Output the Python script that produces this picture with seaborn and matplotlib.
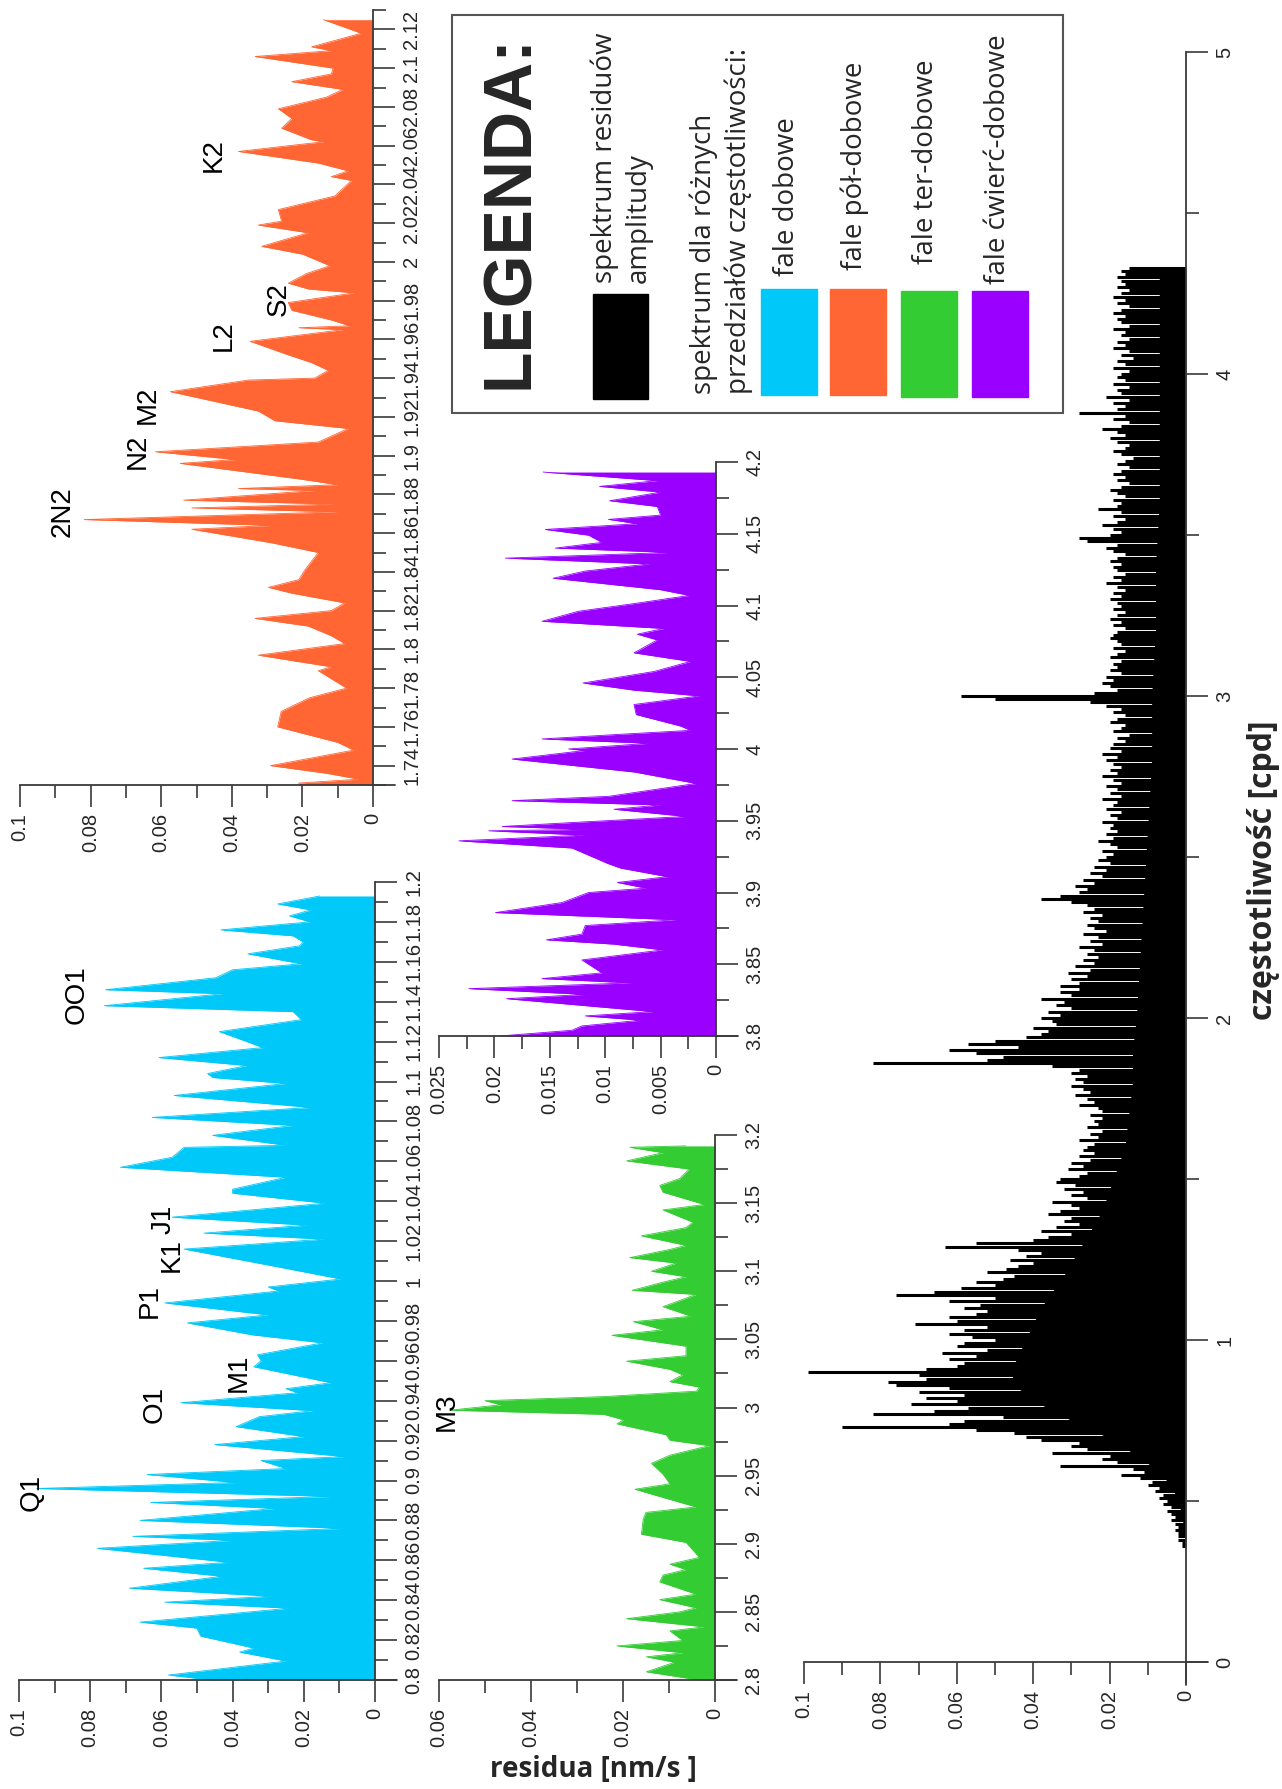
import numpy as np
import matplotlib
matplotlib.use("Agg")
import matplotlib.pyplot as plt
from matplotlib.patches import Rectangle
import seaborn as sns

# residual amplitude spectrum with four zoomed frequency bands (figure is rotated 90 deg)

sns.set_theme(style="white")
plt.rcParams['font.family'] = ['Liberation Sans', 'DejaVu Sans']

W, H = 1282, 1789

# colours of the bands
c_blue = "#00c8f8"
c_orange = "#ff6633"
c_green = "#33cc33"
c_purple = "#9900ff"
c_axis = "#3a3a3a"

# ---- diurnal band (0.8 - 1.2 cpd) ----
blue_freq = [0.800, 0.8025, 0.8095, 0.814, 0.816, 0.822, 0.826, 0.829, 0.836, 0.839, 0.842, 0.846,
             0.852, 0.856, 0.859, 0.866, 0.870, 0.872, 0.876, 0.880, 0.886, 0.889, 0.892, 0.896,
             0.899, 0.903, 0.906, 0.910, 0.912, 0.918, 0.922, 0.927, 0.932, 0.935, 0.939, 0.944,
             0.946, 0.949, 0.957, 0.960, 0.963, 0.969, 0.973, 0.979, 0.983, 0.989, 0.995, 0.997,
             1.001, 1.007, 1.016, 1.021, 1.024, 1.028, 1.032, 1.039, 1.044, 1.046, 1.052, 1.057,
             1.062, 1.067, 1.068, 1.073, 1.078, 1.082, 1.087, 1.093, 1.099, 1.102, 1.104, 1.108,
             1.112, 1.117, 1.120, 1.125, 1.131, 1.135, 1.138, 1.144, 1.146, 1.152, 1.156, 1.159,
             1.164, 1.168, 1.170, 1.173, 1.176, 1.180, 1.183, 1.186, 1.189, 1.193]
blue_amp = [0.046, 0.058, 0.025, 0.038, 0.034, 0.049, 0.050, 0.066, 0.024, 0.059, 0.029, 0.069,
            0.043, 0.065, 0.041, 0.078, 0.040, 0.068, 0.009, 0.066, 0.028, 0.063, 0.012, 0.095,
            0.039, 0.064, 0.025, 0.032, 0.0086, 0.045, 0.020, 0.039, 0.0325, 0.0175, 0.0545, 0.0217,
            0.025, 0.0124, 0.034, 0.032, 0.033, 0.0147, 0.0344, 0.0527, 0.030, 0.059, 0.027, 0.030,
            0.0096, 0.027, 0.0536, 0.0141, 0.048, 0.019, 0.057, 0.014, 0.040, 0.040, 0.025, 0.0715,
            0.057, 0.0536, 0.025, 0.0456, 0.023, 0.0626, 0.018, 0.0564, 0.025, 0.0456, 0.047, 0.036,
            0.0607, 0.0315, 0.036, 0.0437, 0.0207, 0.023, 0.076, 0.0428, 0.0757, 0.0447, 0.040, 0.0207,
            0.0357, 0.0212, 0.0202, 0.023, 0.0433, 0.0183, 0.024, 0.018, 0.0273, 0.0155]

# ---- semidiurnal band (1.73 - 2.13 cpd) ----
orange_freq = [1.730, 1.731, 1.733, 1.736, 1.740, 1.748, 1.752, 1.760, 1.768, 1.775, 1.780, 1.789,
               1.791, 1.797, 1.803, 1.807, 1.812, 1.816, 1.820, 1.824, 1.829, 1.832, 1.836, 1.841,
               1.850, 1.855, 1.862, 1.864, 1.867, 1.871, 1.873, 1.875, 1.877, 1.882, 1.883, 1.885,
               1.888, 1.896, 1.898, 1.902, 1.907, 1.914, 1.918, 1.923, 1.933, 1.939, 1.940, 1.944,
               1.948, 1.952, 1.959, 1.965, 1.966, 1.967, 1.970, 1.975, 1.979, 1.984, 1.986, 1.989,
               1.994, 1.998, 2.004, 2.008, 2.011, 2.015, 2.019, 2.021, 2.027, 2.034, 2.042, 2.044,
               2.047, 2.051, 2.057, 2.062, 2.063, 2.069, 2.074, 2.079, 2.085, 2.089, 2.093, 2.097,
               2.100, 2.106, 2.109, 2.111, 2.118, 2.125]
orange_amp = [0.021, 0.021, 0.004, 0.013, 0.029, 0.0055, 0.010, 0.027, 0.026, 0.018, 0.0075, 0.0155,
              0.0118, 0.0325, 0.008, 0.0118, 0.0183, 0.0334, 0.0118, 0.008, 0.023, 0.0296, 0.021, 0.0193,
              0.0155, 0.0287, 0.0513, 0.0287, 0.0818, 0.0099, 0.0513, 0.0108, 0.0536, 0.0165, 0.0381, 0.0099,
              0.021, 0.0546, 0.039, 0.0616, 0.0155, 0.007, 0.0278, 0.0325, 0.0574, 0.0353, 0.0165, 0.0127,
              0.0174, 0.024, 0.0348, 0.0085, 0.021, 0.0066, 0.0118, 0.023, 0.024, 0.0052, 0.0183, 0.024,
              0.0188, 0.0122, 0.020, 0.0315, 0.026, 0.0183, 0.0325, 0.0259, 0.0268, 0.0108, 0.0061, 0.0118,
              0.007, 0.0155, 0.0381, 0.014, 0.0174, 0.0259, 0.023, 0.0268, 0.0132, 0.0085, 0.023, 0.0118,
              0.0113, 0.0334, 0.0118, 0.0174, 0.0033, 0.014]

# ---- terdiurnal band (2.8 - 3.2 cpd) ----
green_freq = [2.800, 2.806, 2.813, 2.817, 2.820, 2.825, 2.829, 2.836, 2.839, 2.845, 2.850, 2.853,
              2.859, 2.863, 2.872, 2.877, 2.881, 2.885, 2.890, 2.901, 2.907, 2.918, 2.923, 2.927,
              2.934, 2.940, 2.944, 2.951, 2.959, 2.965, 2.972, 2.976, 2.980, 2.988, 2.991, 2.995,
              2.998, 3.002, 3.005, 3.008, 3.012, 3.015, 3.019, 3.024, 3.028, 3.034, 3.038, 3.045,
              3.053, 3.057, 3.063, 3.067, 3.074, 3.083, 3.086, 3.092, 3.096, 3.100, 3.106, 3.110,
              3.116, 3.119, 3.126, 3.132, 3.136, 3.145, 3.149, 3.158, 3.163, 3.168, 3.175, 3.181,
              3.187, 3.191, 3.192]
green_amp = [0.0034, 0.0149, 0.0088, 0.0149, 0.007, 0.0213, 0.007, 0.0098, 0.0023, 0.0192, 0.0077, 0.0041,
             0.012, 0.0041, 0.012, 0.0113, 0.0063, 0.0098, 0.0034, 0.0063, 0.016, 0.0156, 0.015, 0.0041,
             0.0113, 0.0174, 0.0098, 0.0113, 0.0138, 0.0098, 0.0012, 0.0098, 0.0106, 0.0213, 0.0199, 0.0242,
             0.0576, 0.0465, 0.050, 0.0242, 0.004, 0.0034, 0.0098, 0.007, 0.0098, 0.0192, 0.0063, 0.0063,
             0.0224, 0.0113, 0.0177, 0.0052, 0.0113, 0.0041, 0.018, 0.0113, 0.0063, 0.0138, 0.0084, 0.0185,
             0.0098, 0.0063, 0.016, 0.0063, 0.0048, 0.0113, 0.0023, 0.0113, 0.012, 0.0077, 0.0056, 0.0192,
             0.0113, 0.0185, 0.0063]

# ---- quarterdiurnal band (3.8 - 4.2 cpd) ----
purple_freq = [3.800, 3.804, 3.807, 3.811, 3.814, 3.817, 3.826, 3.829, 3.833, 3.837, 3.840, 3.844,
               3.853, 3.860, 3.864, 3.867, 3.871, 3.877, 3.881, 3.886, 3.893, 3.900, 3.903, 3.907,
               3.911, 3.917, 3.920, 3.927, 3.931, 3.936, 3.940, 3.943, 3.944, 3.946, 3.949, 3.953,
               3.958, 3.961, 3.964, 3.967, 3.976, 3.984, 3.993, 3.999, 4.000, 4.004, 4.007, 4.010,
               4.013, 4.016, 4.024, 4.031, 4.037, 4.041, 4.046, 4.054, 4.061, 4.067, 4.076, 4.080,
               4.084, 4.089, 4.096, 4.101, 4.107, 4.111, 4.119, 4.124, 4.129, 4.133, 4.137, 4.140,
               4.144, 4.149, 4.153, 4.157, 4.160, 4.163, 4.169, 4.173, 4.179, 4.183, 4.187, 4.193]
purple_amp = [0.0195, 0.013, 0.0121, 0.0068, 0.0118, 0.0057, 0.0189, 0.0118, 0.0223, 0.0077, 0.0157, 0.0103,
              0.0121, 0.0048, 0.0092, 0.0153, 0.0121, 0.0118, 0.0036, 0.0199, 0.0139, 0.0115, 0.0063, 0.0089,
              0.0044, 0.0086, 0.0097, 0.0118, 0.013, 0.0232, 0.0118, 0.0205, 0.0114, 0.0193, 0.0124, 0.0027,
              0.0092, 0.005, 0.0184, 0.0097, 0.0018, 0.0074, 0.0184, 0.0118, 0.0133, 0.006, 0.0157, 0.0092,
              0.0023, 0.0032, 0.0072, 0.0074, 0.0015, 0.0074, 0.012, 0.0056, 0.0023, 0.0074, 0.0053, 0.0071,
              0.0047, 0.0157, 0.0124, 0.0077, 0.0024, 0.005, 0.0147, 0.0118, 0.006, 0.019, 0.0041, 0.0145,
              0.0103, 0.0115, 0.0154, 0.0071, 0.0097, 0.005, 0.0053, 0.0096, 0.005, 0.0105, 0.0053, 0.0156]

# ---- full residual spectrum, spike tips every 0.01 cpd from 0.36 cpd (units 0.001 nm/s) ----
black_amp_milli = [
    1, 1, 2, 2,
    2, 3, 2, 3, 4, 3, 4, 5, 4, 6,
    5, 7, 6, 8, 7, 10, 9, 12, 17, 11,
    14, 33, 18, 22, 20, 35, 26, 30, 28, 38,
    42, 45, 55, 90, 62, 58, 48, 82, 66, 57,
    72, 60, 68, 58, 70, 62, 76, 78, 68, 70,
    99, 68, 60, 58, 62, 55, 64, 52, 60, 58,
    50, 56, 62, 58, 52, 71, 60, 62, 55, 52,
    58, 54, 62, 50, 76, 66, 59, 50, 55, 48,
    45, 52, 47, 44, 40, 46, 42, 38, 44, 63,
    55, 40, 36, 30, 38, 34, 28, 32, 30, 36,
    33, 28, 30, 35, 26, 30, 27, 32, 29, 34,
    33, 28, 26, 31, 27, 30, 25, 28, 24, 27,
    26, 24, 28, 23, 25, 22, 26, 23, 24, 22,
    25, 22, 23, 28, 24, 26, 29, 25, 27, 30,
    27, 29, 26, 30, 28, 35, 82, 52, 48, 55,
    62, 44, 57, 50, 42, 38, 36, 40, 34, 35,
    38, 33, 36, 30, 34, 32, 38, 30, 33, 28,
    33, 28, 30, 26, 31, 25, 29, 24, 27, 23,
    26, 24, 28, 22, 25, 23, 27, 21, 24, 26,
    23, 25, 22, 27, 24, 26, 30, 38, 33, 28,
    26, 29, 24, 27, 22, 25, 21, 24, 20, 23,
    21, 19, 22, 18, 20, 23, 19, 21, 18, 20,
    19, 22, 18, 20, 17, 21, 19, 18, 22, 17,
    20, 18, 21, 17, 19, 22, 18, 20, 17, 19,
    21, 18, 22, 17, 20, 19, 16, 18, 15, 19,
    17, 16, 20, 18, 16, 19, 17, 21, 25, 50,
    59, 24, 18, 20, 22, 19, 21, 17, 20, 18,
    19, 17, 20, 18, 16, 19, 17, 18, 20, 19,
    18, 16, 19, 17, 20, 18, 16, 19, 17, 18,
    20, 17, 19, 16, 18, 21, 17, 19, 16, 18,
    19, 17, 20, 18, 16, 19, 21, 18, 26, 28,
    20, 17, 19, 22, 18, 16, 19, 17, 23, 18,
    17, 19, 16, 18, 20, 17, 15, 18, 16, 19,
    17, 15, 18, 16, 14, 17, 19, 16, 15, 18,
    20, 16, 18, 22, 17, 15, 19, 16, 28, 18,
    16, 19, 15, 21, 17, 18, 15, 19, 16, 18,
    17, 15, 19, 16, 18, 14, 17, 15, 19, 16,
    18, 15, 17, 16, 19, 15, 17, 18, 16, 19,
    17, 15, 18, 16, 19, 17, 15, 18, 16, 17,
    18, 16, 17, 15]
black_freq_start = 0.36
black_freq_step = 0.01

# solid core of the full spectrum (units 0.001 nm/s)
black_core_freq = [0.35, 0.45, 0.5, 0.55, 0.6, 0.65, 0.7, 0.75, 0.8, 0.85, 0.9, 0.95, 1.0, 1.1,
                   1.2, 1.3, 1.4, 1.5, 1.6, 1.7, 1.8, 1.9, 2.0, 2.2, 2.4, 2.6, 2.8, 3.0, 3.2,
                   3.4, 3.6, 3.8, 4.0, 4.2, 4.33]
black_core_milli = [0, 1, 2, 4, 8, 14, 21, 30, 38, 44, 46, 44, 42, 38,
                    32, 27, 22, 19, 16, 15, 14, 14, 13, 12, 11, 10, 9, 9, 8,
                    8, 7, 7, 7, 7, 7]

# tide constituent labels: (name, frequency, amplitude position)
blue_labels = [("Q1", 0.894, 0.0965), ("O1", 0.938, 0.0619), ("M1", 0.954, 0.0384),
               ("P1", 0.990, 0.0633), ("K1", 1.013, 0.0572), ("J1", 1.031, 0.0595),
               ("OO1", 1.1435, 0.0837)]
orange_labels = [("2N2", 1.871, 0.0878), ("N2", 1.902, 0.0666), ("M2", 1.926, 0.0638),
                 ("L2", 1.962, 0.0423), ("S2", 1.981, 0.0266), ("K2", 2.055, 0.045)]
green_labels = [("M3", 2.997, 0.0583)]

legend_texts = ["spektrum residuów", "amplitudy", "spektrum dla różnych",
                "przedziałów częstotliwości:", "fale dobowe", "fale pół-dobowe",
                "fale ter-dobowe", "fale ćwierć-dobowe"]


def fmt(v):
    return f"{v:g}"


def tick_range(lo, hi, step):
    k0 = int(np.ceil(lo / step - 1e-6))
    k1 = int(np.floor(hi / step + 1e-6))
    return np.round(np.arange(k0, k1 + 1) * step, 5)


def panel(fig, l, t, r, b, amp_max, amp_major, amp_minor, f_lo, f_hi, f_major, f_minor):
    ax = fig.add_axes([l / W, 1 - b / H, (r - l) / W, (b - t) / H])
    ax.set_facecolor("none")
    for s in ["top", "left"]:
        ax.spines[s].set_visible(False)
    for s in ["right", "bottom"]:
        ax.spines[s].set_color(c_axis)
        ax.spines[s].set_linewidth(1.3)
    xt = tick_range(0, amp_max, amp_major)
    ax.set_xticks(xt)
    ax.set_xticklabels([fmt(v) for v in xt], rotation=90, fontsize=14.5)
    ax.set_xticks(tick_range(0, amp_max, amp_minor), minor=True)
    ft = tick_range(f_lo, f_hi, f_major)
    ax.yaxis.tick_right()
    ax.set_yticks(ft)
    ax.set_yticklabels([fmt(v) for v in ft], rotation=90, va="center", fontsize=14.5)
    ax.set_yticks(tick_range(f_lo, f_hi, f_minor), minor=True)
    ax.tick_params(which="both", direction="out", color=c_axis, width=1.2,
                   bottom=True, right=True, left=False, top=False)
    ax.tick_params(which="major", length=16, pad=5)
    ax.tick_params(which="minor", length=9)
    ax.tick_params(axis="x", which="major", pad=4)
    # amplitude axis runs a little past the zero line
    ax.plot([1, 1 + 22 / (r - l)], [0, 0], transform=ax.transAxes, clip_on=False,
            color=c_axis, lw=1.3)
    ax.grid(False)
    return ax


def band(ax, freq, amp, color):
    ax.fill_betweenx(freq, 0, amp, color=color, lw=0)
    sns.lineplot(x=amp, y=freq, orient="y", sort=False, estimator=None,
                 color=color, lw=0.6, ax=ax)


def tide_labels(ax, labels):
    for name, f, a in labels:
        ax.text(a, f, name, rotation=90, ha="center", va="center", fontsize=20, color="black")


fig = plt.figure(figsize=(W / 100, H / 100), dpi=100)
fig.patch.set_facecolor("white")

# orange: semidiurnal
ax_o = panel(fig, 20, 10, 373, 785, 0.1, 0.02, 0.01, 1.73, 2.13, 0.02, 0.01)
band(ax_o, orange_freq, orange_amp, c_orange)
tide_labels(ax_o, orange_labels)
ax_o.set_xlim(0.1, 0); ax_o.set_ylim(1.73, 2.13)

# blue: diurnal
ax_b = panel(fig, 19, 882, 375, 1680, 0.1, 0.02, 0.01, 0.8, 1.2, 0.02, 0.01)
band(ax_b, blue_freq, blue_amp, c_blue)
tide_labels(ax_b, blue_labels)
ax_b.set_xlim(0.1, 0); ax_b.set_ylim(0.8, 1.2)

# purple: quarterdiurnal
ax_p = panel(fig, 439, 462, 716, 1036, 0.025, 0.005, 0.0025, 3.8, 4.2, 0.05, 0.025)
band(ax_p, purple_freq, purple_amp, c_purple)
ax_p.set_xlim(0.025, 0); ax_p.set_ylim(3.8, 4.2)

# green: terdiurnal
ax_g = panel(fig, 439, 1135, 715, 1680, 0.06, 0.02, 0.01, 2.8, 3.2, 0.05, 0.025)
band(ax_g, green_freq, green_amp, c_green)
tide_labels(ax_g, green_labels)
ax_g.set_xlim(0.06, 0); ax_g.set_ylim(2.8, 3.2)

# black: full residual spectrum
ax_k = panel(fig, 804, 52, 1186, 1662, 0.1, 0.02, 0.01, 0.0, 5.0, 1.0, 0.5)
black_amp = np.array(black_amp_milli) / 1000.0
black_freq = np.round(black_freq_start + black_freq_step * np.arange(len(black_amp)), 3)
ax_k.fill_betweenx(black_core_freq, 0, np.array(black_core_milli) / 1000.0, color="black", lw=0)
ax_k.hlines(black_freq, 0, black_amp, color="black", lw=2.2)
ax_k.plot([1, 1], [0, -23 / (1662 - 52)], transform=ax_k.transAxes, clip_on=False,
          color=c_axis, lw=1.3)
ax_k.set_xlim(0.1, 0); ax_k.set_ylim(0, 5)

# overlay in pixel units for legend and axis titles
ov = fig.add_axes([0, 0, 1, 1])
ov.set_xlim(0, W)
ov.set_ylim(H, 0)
ov.axis("off")
ov.patch.set_alpha(0)

ov.add_patch(Rectangle((452, 15), 611, 398, fill=False, ec="#555555", lw=1.5))
ov.text(510, 212, "LEGENDA:", rotation=90, ha="center", va="center",
        fontsize=49, fontweight="bold", family=["Liberation Sans", "DejaVu Sans"])
ov.add_patch(Rectangle((593, 294), 55, 105, color="black"))
swatches = [(761, 289, c_blue), (830, 289, c_orange), (901, 291, c_green), (972, 291, c_purple)]
for x0, y0, c in swatches:
    ov.add_patch(Rectangle((x0, y0), 56, 106, color=c))

legend_pos = [(605, 283), (639, 283), (704, 394), (739, 394),
              (787, 276), (855, 270), (926, 264), (998, 284)]
for txt, (x0, y0) in zip(legend_texts, legend_pos):
    ov.text(x0, y0, txt, rotation=90, ha="center", va="bottom", fontsize=20,
            family=["Open Sans", "DejaVu Sans"])

ov.text(593, 1770, "residua [nm/s ]", ha="center", va="center", fontsize=20,
        fontweight="bold", family=["Open Sans", "DejaVu Sans"])
ov.text(1264, 870, "częstotliwość [cpd]", rotation=90, ha="center", va="center", fontsize=23,
        fontweight="bold", family=["Open Sans", "DejaVu Sans"])

fig.savefig("out.png", dpi=100, facecolor="white")
